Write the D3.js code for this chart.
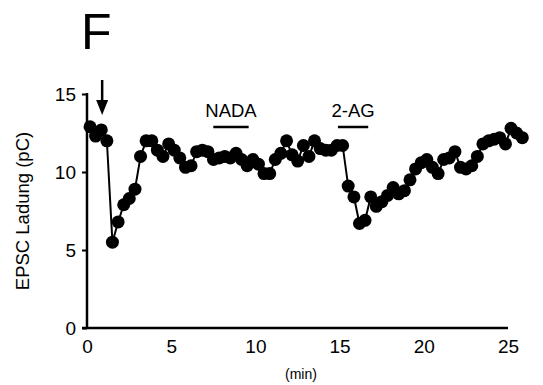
<!DOCTYPE html>
<html>
<head>
<meta charset="utf-8">
<script src="https://cdn.jsdelivr.net/npm/d3@7"></script>
<style>
  body { margin: 0; background: #fff; }
  svg text { font-family: "Liberation Sans", Arial, sans-serif; fill: #000; }
</style>
</head>
<body>
<div id="chart"></div>
<script>
// time in minutes (one sweep every 20 s)
const minutes = [0.18, 0.51, 0.85, 1.18, 1.51, 1.85, 2.18, 2.51, 2.85, 3.18, 3.51, 3.85, 4.18, 4.51, 4.85,
  5.18, 5.51, 5.85, 6.18, 6.51, 6.85, 7.18, 7.51, 7.85, 8.18, 8.51, 8.85, 9.18, 9.51, 9.85,
  10.18, 10.51, 10.85, 11.18, 11.51, 11.85, 12.18, 12.51, 12.85, 13.18, 13.51, 13.85, 14.18, 14.51, 14.85,
  15.18, 15.51, 15.85, 16.18, 16.51, 16.85, 17.18, 17.51, 17.85, 18.18, 18.51, 18.85, 19.18, 19.51, 19.85,
  20.18, 20.51, 20.85, 21.18, 21.51, 21.85, 22.18, 22.51, 22.85, 23.18, 23.51, 23.85, 24.18, 24.51, 24.85,
  25.18, 25.51, 25.85];
// EPSC charge (pC)
const charge = [12.9, 12.3, 12.7, 12.0, 5.5, 6.8, 7.9, 8.3, 8.9, 11.0, 12.0, 12.0, 11.4, 11.0, 11.8,
  11.4, 10.9, 10.3, 10.4, 11.3, 11.4, 11.3, 10.8, 10.9, 11.0, 10.9, 11.2, 10.8, 10.4, 10.8,
  10.5, 9.9, 9.9, 10.8, 11.2, 12.0, 11.1, 10.7, 11.7, 11.0, 12.0, 11.5, 11.4, 11.4, 11.7,
  11.7, 9.1, 8.4, 6.7, 6.9, 8.4, 7.8, 8.1, 8.5, 9.0, 8.6, 8.8, 9.5, 10.2, 10.6,
  10.8, 10.3, 9.9, 10.8, 10.9, 11.3, 10.3, 10.2, 10.4, 11.0, 11.8, 12.0, 12.1, 12.2, 11.8,
  12.8, 12.5, 12.2];

const xTicks = [0, 5, 10, 15, 20, 25];
const yTicks = [0, 5, 10, 15];
// drug applications [start, end] in minutes
const drugs = [
  { name: "NADA", start: 7.5, end: 9.6 },
  { name: "2-AG", start: 14.9, end: 16.7 }
];
const arrowAt = 0.9;

const width = 543, height = 385;
const margin = { left: 87, right: 35, top: 94, bottom: 57 };

const svg = d3.select("#chart").append("svg")
  .attr("width", width)
  .attr("height", height);

const x = d3.scaleLinear().domain([0, 25]).range([margin.left, width - margin.right]);
const y = d3.scaleLinear().domain([0, 15]).range([height - margin.bottom, margin.top]);

// axes
const xAxis = svg.append("g")
  .attr("transform", `translate(0,${y(0)})`)
  .call(d3.axisBottom(x).tickValues(xTicks).tickSize(0).tickPadding(12).tickFormat(d3.format("d")));
xAxis.select(".domain").remove();
xAxis.append("line")
  .attr("x1", x(0) - 5).attr("x2", x(25))
  .attr("stroke", "#000").attr("stroke-width", 2.5);
xAxis.selectAll("text").style("font-size", "19px");

const yAxis = svg.append("g")
  .attr("transform", `translate(${x(0)},0)`)
  .call(d3.axisLeft(y).tickValues(yTicks).tickSize(5).tickPadding(6).tickFormat(d3.format("d")));
yAxis.select(".domain").remove();
yAxis.append("line")
  .attr("y1", y(15) - 1).attr("y2", y(0))
  .attr("stroke", "#000").attr("stroke-width", 2.5);
yAxis.selectAll(".tick line").attr("stroke-width", 2);
yAxis.selectAll("text").style("font-size", "19px");

svg.append("text")
  .attr("transform", `translate(29,${(y(0) + y(15)) / 2}) rotate(-90)`)
  .attr("text-anchor", "middle")
  .style("font-size", "18.5px")
  .text("EPSC Ladung (pC)");

svg.append("text")
  .attr("x", 301).attr("y", 379)
  .attr("text-anchor", "middle")
  .style("font-size", "14px")
  .text("(min)");

svg.append("text")
  .attr("x", 81).attr("y", 49)
  .style("font-size", "50px")
  .text("F");

// data line and markers
const pts = minutes.map((m, i) => ({ t: m, v: charge[i] }));
svg.append("path")
  .datum(pts)
  .attr("fill", "none")
  .attr("stroke", "#000")
  .attr("stroke-width", 2)
  .attr("d", d3.line().x(d => x(d.t)).y(d => y(d.v)));

svg.selectAll("circle.pt")
  .data(pts)
  .join("circle").attr("class", "pt")
  .attr("cx", d => x(d.t))
  .attr("cy", d => y(d.v))
  .attr("r", 6.5)
  .attr("fill", "#000");

// drug bars
const bars = svg.selectAll("g.drug").data(drugs).join("g").attr("class", "drug");
bars.append("line")
  .attr("x1", d => x(d.start)).attr("x2", d => x(d.end))
  .attr("y1", 127).attr("y2", 127)
  .attr("stroke", "#000").attr("stroke-width", 2.5);
bars.append("text")
  .attr("x", d => x((d.start + d.end) / 2))
  .attr("y", 117)
  .attr("text-anchor", "middle")
  .style("font-size", "18.5px")
  .text(d => d.name);

// stimulation arrow
svg.append("line")
  .attr("x1", x(arrowAt)).attr("x2", x(arrowAt))
  .attr("y1", 80).attr("y2", 102)
  .attr("stroke", "#000").attr("stroke-width", 2.5);
svg.append("path")
  .attr("d", `M${x(arrowAt) - 6},100 L${x(arrowAt) + 6},100 L${x(arrowAt)},115 Z`)
  .attr("fill", "#000");
</script>
</body>
</html>
